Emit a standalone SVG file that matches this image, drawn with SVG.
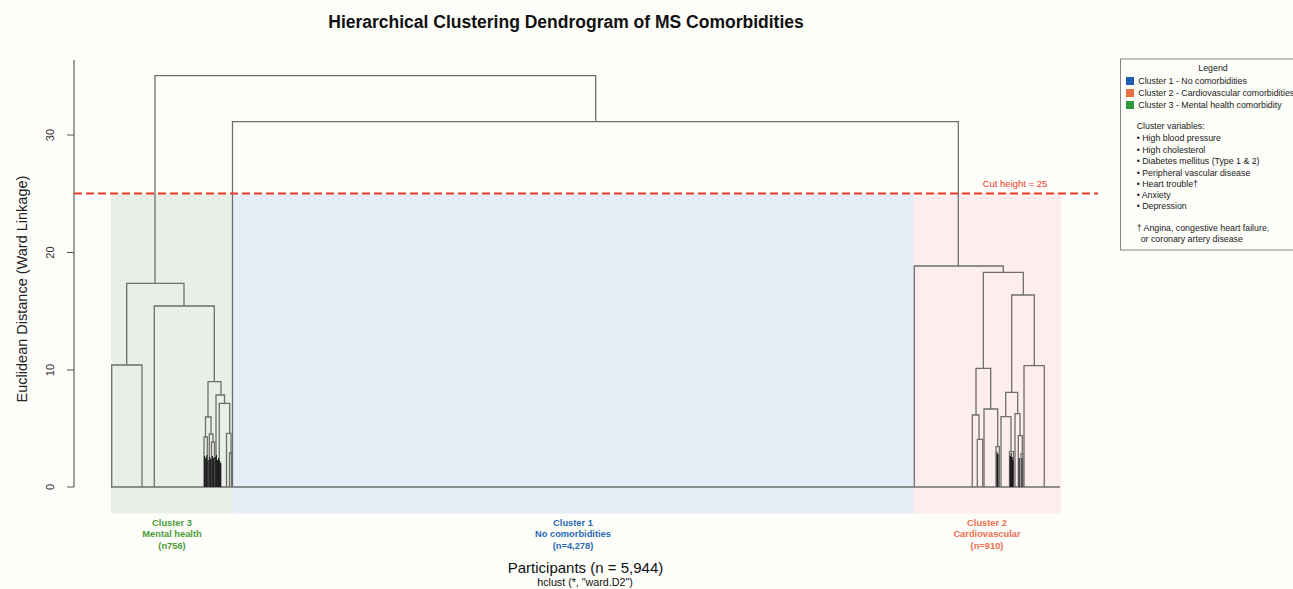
<svg xmlns="http://www.w3.org/2000/svg" width="1293" height="589" viewBox="0 0 1293 589">
<style>
text{font-family:"Liberation Sans",Arial,sans-serif}
.tr{fill:none;stroke:#6e6e6e;stroke-width:1.3}
.dk{fill:none;stroke:#1a1a1a;stroke-width:1.1}
.ax{fill:none;stroke:#555;stroke-width:1.1}
.tk{font-size:11px;fill:#333;text-anchor:middle}
.cl{font-size:9.3px;font-weight:bold;text-anchor:middle}
.lg{font-size:8.8px;fill:#222}
</style>
<rect width="1293" height="589" fill="#fdfdf9"/>
<text x="566" y="28" font-size="17.5" font-weight="bold" text-anchor="middle" fill="#111">Hierarchical Clustering Dendrogram of MS Comorbidities</text>

<g id="bands">
<rect x="111" y="193.5" width="121.5" height="320" fill="#e8efe6"/>
<rect x="232.5" y="193.5" width="681.5" height="320" fill="#e5edf6"/>
<rect x="914" y="193.5" width="147" height="320" fill="#fdeeed"/>
</g>

<g id="axis">
<path class="ax" d="M74 60V487M67 487H74M67 370H74M67 252.5H74M67 135H74"/>
<text class="tk" transform="translate(54 487) rotate(-90)">0</text>
<text class="tk" transform="translate(54 370) rotate(-90)">10</text>
<text class="tk" transform="translate(54 252.5) rotate(-90)">20</text>
<text class="tk" transform="translate(54 135) rotate(-90)">30</text>
<text transform="translate(27 289) rotate(-90)" font-size="14.5" fill="#222" text-anchor="middle">Euclidean Distance (Ward Linkage)</text>
</g>

<g id="connectors">
<path class="tr" d="M111 487H1060"/>
<path class="tr" d="M155 283.3V75.7H595.7V121.7"/>
<path class="tr" d="M232.5 487V121.7H958.3V266"/>
<!-- cluster 3 -->
<path class="tr" d="M126.7 365V283.3H184V306"/>
<path class="tr" d="M111.7 487V365H142V487"/>
<path class="tr" d="M154.3 487V306H214.3V381.7"/>
<path class="tr" d="M208 417V381.7H221V395"/>
<path class="tr" d="M205.5 437V417H211V434"/>
<path class="tr" d="M204 487V437H207.3V487"/>
<path class="tr" d="M209.3 487V434H213V442"/>
<path class="tr" d="M211.5 487V442H214.5V487"/>
<path class="tr" d="M216 487V395H224.5V403.3"/>
<path class="tr" d="M219.3 487V403.3H229.7V433.3"/>
<path class="tr" d="M226.5 487V433.3H231V453"/>
<path class="tr" d="M229.5 487V453H231.5V487"/>
<path class="dk" d="M204.6 487V456M205.8 487V458M206.8 487V455M208.2 487V460M209.8 487V457M210.8 487V459M212.4 487V456M213.6 487V458M215.2 487V457M216.4 487V455M217.6 487V460M218.6 487V458M219.8 487V461M220.8 487V463"/>
<!-- cluster 2 -->
<path class="tr" d="M914.3 487V266H1003.3V272.3"/>
<path class="tr" d="M983.3 368.3V272.3H1023.3V295"/>
<path class="tr" d="M976 415V368.3H990.7V409"/>
<path class="tr" d="M972.3 487V415H979V439.3"/>
<path class="tr" d="M977.3 487V439.3H982.7V487"/>
<path class="tr" d="M984 487V409H997.7V446.7"/>
<path class="tr" d="M996 487V446.7H999.3V487"/>
<path class="tr" d="M1011.7 392.3V295H1034.3V365.7"/>
<path class="tr" d="M1005.7 416.7V392.3H1017.7V413.7"/>
<path class="tr" d="M1001 487V416.7H1011V451.7"/>
<path class="tr" d="M1015 487V413.7H1020V435.7"/>
<path class="tr" d="M1018.3 487V435.7H1022.3V454"/>
<path class="tr" d="M1021 487V454H1023V487"/>
<path class="tr" d="M1024 487V365.7H1044.3V487"/>
<path class="tr" d="M1009.5 487V451.7H1013.5V487"/>
<path class="dk" d="M1010.2 487V456M1011.2 487V453M1012.2 487V457M1013 487V460M997 487V452M998 487V454M1019.2 487V458M1022 487V458"/>
</g>

<g id="cut">
<path d="M74 193.5H1098" stroke="#ec3b2b" stroke-width="1.8" stroke-dasharray="8 4" fill="none"/>
<text x="1015" y="187" font-size="9.5" fill="#ec3b2b" text-anchor="middle">Cut height = 25</text>
</g>

<g id="label-cluster3">
<text class="cl" x="172" y="525.5" fill="#4c9c3c">Cluster 3</text>
<text class="cl" x="172" y="537" fill="#4c9c3c">Mental health</text>
<text class="cl" x="172" y="548.5" fill="#4c9c3c">(n756)</text>
</g>
<g id="label-cluster1">
<text class="cl" x="573" y="525.5" fill="#2c6ab4">Cluster 1</text>
<text class="cl" x="573" y="537" fill="#2c6ab4">No comorbidities</text>
<text class="cl" x="573" y="548.5" fill="#2c6ab4">(n=4,278)</text>
</g>
<g id="label-cluster2">
<text class="cl" x="987" y="525.5" fill="#ec6f50">Cluster 2</text>
<text class="cl" x="987" y="537" fill="#ec6f50">Cardiovascular</text>
<text class="cl" x="987" y="548.5" fill="#ec6f50">(n=910)</text>
</g>

<g id="xlabel">
<text x="585.5" y="573" font-size="15" fill="#111" text-anchor="middle">Participants (n = 5,944)</text>
<text x="585" y="585.5" font-size="10.7" fill="#111" text-anchor="middle">hclust (*, "ward.D2")</text>
</g>

<g id="legend">
<rect x="1120.5" y="59" width="180" height="191" fill="#fdfdf9" stroke="#888" stroke-width="1"/>
<text class="lg" x="1213" y="71" text-anchor="middle">Legend</text>
<rect x="1126" y="77" width="8" height="8" fill="#1f5bb5"/>
<text class="lg" x="1138.3" y="84">Cluster 1 - No comorbidities</text>
<rect x="1126" y="89" width="8" height="8" fill="#ea7048"/>
<text class="lg" x="1138.3" y="96">Cluster 2 - Cardiovascular comorbidities</text>
<rect x="1126" y="101" width="8" height="8" fill="#2e9a3a"/>
<text class="lg" x="1138.3" y="108">Cluster 3 - Mental health comorbidity</text>
<text class="lg" x="1136.7" y="129">Cluster variables:</text>
<text class="lg" x="1136.7" y="140.5">• High blood pressure</text>
<text class="lg" x="1136.7" y="152.5">• High cholesterol</text>
<text class="lg" x="1136.7" y="164">• Diabetes mellitus (Type 1 &amp; 2)</text>
<text class="lg" x="1136.7" y="175.5">• Peripheral vascular disease</text>
<text class="lg" x="1136.7" y="186.5">• Heart trouble†</text>
<text class="lg" x="1136.7" y="197.5">• Anxiety</text>
<text class="lg" x="1136.7" y="209">• Depression</text>
<text class="lg" x="1136.7" y="231">† Angina, congestive heart failure,</text>
<text class="lg" x="1140.7" y="242">or coronary artery disease</text>
</g>
</svg>
